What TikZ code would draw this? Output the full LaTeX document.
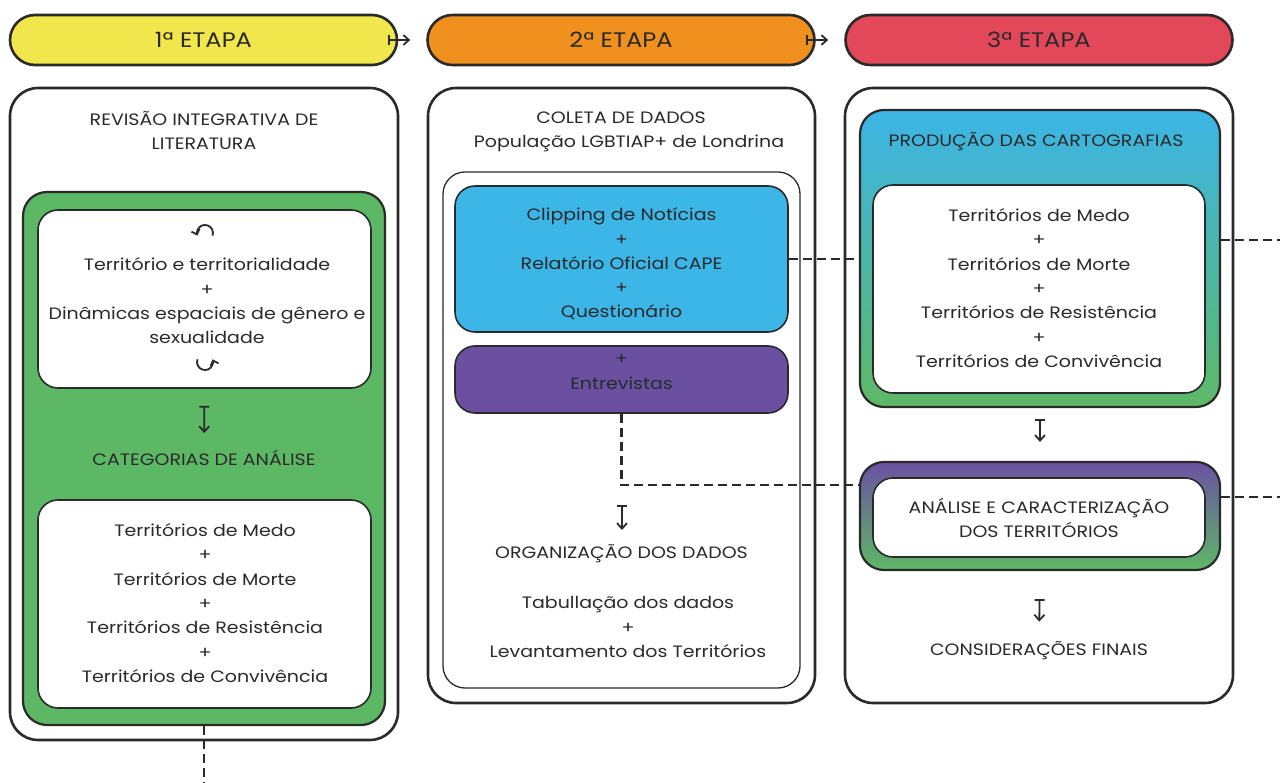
\documentclass[tikz,border=0pt]{standalone}
\usepackage{fontspec}
\setmainfont{Poppins}[FakeStretch=1.15]
\usetikzlibrary{arrows.meta,calc}
\definecolor{ink}{HTML}{2A2A2A}
\definecolor{cyel}{HTML}{F1E64B}
\definecolor{corg}{HTML}{F0901F}
\definecolor{cred}{HTML}{E2485A}
\definecolor{cgrn}{HTML}{5DB866}
\definecolor{cblu}{HTML}{3CB5E7}
\definecolor{cpur}{HTML}{6B50A2}
\tikzset{
  pill/.style={draw=ink, line width=2.6pt, rounded corners=25pt, minimum width=387pt, minimum height=50pt, font=\fontsize{21}{24}\selectfont, text=ink},
  panel/.style={draw=ink, line width=2.6pt, rounded corners=28pt},
  frame/.style={draw=ink, line width=2.2pt, rounded corners=24pt},
  wbox/.style={draw=ink, line width=1.6pt, fill=white, rounded corners=20pt},
  txt/.style={text=ink, align=center, font=\fontsize{16.5}{24.3}\selectfont, inner sep=2pt},
  flow/.style={draw=ink, line width=1.8pt, {Bar[width=10pt]}-{Straight Barb[length=5.5pt,width=10pt]}},
  dline/.style={draw=ink, line width=2.4pt, dash pattern=on 9pt off 5pt},
  carr/.style={draw=ink, line width=1.8pt, -{Straight Barb[length=4.5pt,width=8.5pt]}},
}
\begin{document}
\begin{tikzpicture}[x=1pt,y=-1pt]
\useasboundingbox (0,0) rectangle (1280,783);
% header pills
\node[pill, fill=cyel] (h1) at (203.5,40) {1ª ETAPA};
\node[pill, fill=corg] (h2) at (621,40) {2ª ETAPA};
\node[pill, fill=cred] (h3) at (1039,40) {3ª ETAPA};
\draw[flow] ([xshift=-10pt]h1.east) -- ([xshift=-16pt]h2.west);
\draw[flow] ([xshift=-10pt]h2.east) -- ([xshift=-16pt]h3.west);
% panels
\node[panel, minimum width=388pt, minimum height=652pt] (p1) at (204,414) {};
\node[panel, minimum width=387pt, minimum height=615pt] (p2) at (621.5,395.5) {};
\node[panel, minimum width=388pt, minimum height=615pt] (p3) at (1039,395.5) {};
% ---- column 1
\node[txt] (t1) at (204,130.5) {REVISÃO INTEGRATIVA DE\\LITERATURA};
\node[frame, fill=cgrn, minimum width=362pt, minimum height=533pt] (g1) at (204,458.5) {};
\node[wbox, minimum width=333pt, minimum height=178pt] (w1) at (204.5,299) {};
\node[txt] (w1t) at (207,301) {Território e territorialidade\\+\\Dinâmicas espaciais de gênero e\\sexualidade};
\draw[carr] (212.5,235.7) arc[start angle=20, end angle=-200, radius=8];
\draw[carr] (197.5,359.3) arc[start angle=200, end angle=-20, radius=8];
\node[txt] (cat) at (204,458) {CATEGORIAS DE ANÁLISE};
\draw[flow, shorten <=17pt, shorten >=15pt] (w1.south) -- (cat.north);
\node[wbox, minimum width=333pt, minimum height=208pt] (w2) at (204.5,604) {};
\node[txt] (w2t) at (205,603) {Territórios de Medo\\+\\Territórios de Morte\\+\\Territórios de Resistência\\+\\Territórios de Convivência};
\coordinate (bot) at (1282,784);
\draw[dline] (g1.south) |- (bot);
% ---- column 2
\node[txt] (t2a) at (621,118) {COLETA DE DADOS};
\node[txt] (t2b) at (629,143) {População LGBTIAP+ de Londrina};
\node[draw=ink, line width=1.3pt, rounded corners=22pt, minimum width=357pt, minimum height=516pt] (f2) at (621.5,430) {};
\node[wbox, fill=cblu, minimum width=333pt, minimum height=146pt] (blu) at (621.5,259) {};
\node[txt] (blut) at (621.5,264) {Clipping de Notícias\\+\\Relatório Oficial CAPE\\+\\Questionário};
\node[wbox, fill=cpur, minimum width=333pt, minimum height=67pt] (pur) at (621.5,379.5) {};
\node[txt] (purt) at (621.5,372) {+\\Entrevistas};
\node[txt] (org) at (621.5,554) {ORGANIZAÇÃO DOS DADOS};
\node[txt] (orgt) at (628,627) {Tabullação dos dados\\+\\Levantamento dos Territórios};
\coordinate (a2) at (622,505);
\draw[flow] (a2) -- ++(0,25);
% ---- column 3
\node[frame, top color=cblu, bottom color=cgrn, minimum width=360pt, minimum height=297pt] (car) at (1040,258.5) {};
\node[txt] (cart) at (1036,142) {PRODUÇÃO DAS CARTOGRAFIAS};
\node[wbox, minimum width=332pt, minimum height=208pt] (w3) at (1039,289) {};
\node[txt] (w3t) at (1039,288) {Territórios de Medo\\+\\Territórios de Morte\\+\\Territórios de Resistência\\+\\Territórios de Convivência};
\node[frame, top color=cpur, bottom color=cgrn, minimum width=360pt, minimum height=108pt] (ana) at (1040,516) {};
\node[wbox, minimum width=332pt, minimum height=79pt] (w4) at (1039,517.5) {};
\node[txt] (anat) at (1039,518) {ANÁLISE E CARACTERIZAÇÃO\\DOS TERRITÓRIOS};
\draw[flow, shorten <=11pt, shorten >=19pt] (car.south) -- (ana.north);
\node[txt] (fin) at (1039,651) {CONSIDERAÇÕES FINAIS};
\draw[flow, shorten <=28pt, shorten >=18pt] (ana.south) -- (fin.north);
% ---- dashed links
\draw[dline] (blu.east) -- (blu.east -| car.west);
\coordinate (d2) at (861,485);
\draw[dline] (pur.south) |- (d2);
\coordinate (r1) at (1282,240);
\coordinate (r2) at (1282,497);
\draw[dline] (car.east |- r1) -- (r1);
\draw[dline] (ana.east |- r2) -- (r2);
\end{tikzpicture}
\end{document}
